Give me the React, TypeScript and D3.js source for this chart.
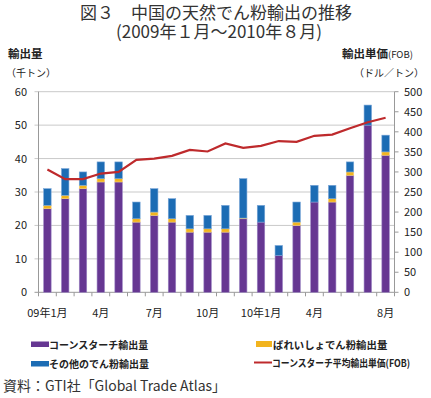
import React from "react";
import * as d3 from "d3";

const months = ["09-01","09-02","09-03","09-04","09-05","09-06","09-07","09-08","09-09","09-10","09-11","09-12","10-01","10-02","10-03","10-04","10-05","10-06","10-07","10-08"];
const cornStarch = [25, 28, 31, 33, 33, 21, 23, 21, 18, 18, 18, 22, 21, 11, 20, 27, 27, 35, 50, 41];
const potatoStarch = [1, 1, 1, 1, 1, 1, 1, 1, 1, 1, 1, 0.2, 0, 0, 1, 0, 1, 1, 0, 1];
const otherStarch = [5, 8, 4, 5, 5, 5, 7, 6, 4, 4, 7, 11.8, 5, 3, 6, 5, 4, 3, 6, 5];
const cornPrice = [306, 282, 282, 296, 300, 330, 333, 340, 355, 351, 371, 360, 365, 377, 375, 390, 393, 409, 424, 435];

const xTickLabels: [number, string][] = [[0, "09年1月"], [3, "4月"], [6, "7月"], [9, "10月"], [12, "10年1月"], [15, "4月"], [19, "8月"]];
const leftTicks = [0, 10, 20, 30, 40, 50, 60];
const rightTicks = [0, 50, 100, 150, 200, 250, 300, 350, 400, 450, 500];

const seriesNames = ["コーンスターチ輸出量", "ばれいしょでん粉輸出量", "その他のでん粉輸出量", "コーンスターチ平均輸出単価(FOB)"];
const colors = { corn: "#663792", potato: "#F2B41E", other: "#1C6CB4", line: "#BE2A2C" };

const W = 431, H = 398;
const L = 38.5, R = 394.5, T = 91.7, B = 292.3;
const FONT = "'Noto Sans CJK JP', 'Noto Sans', sans-serif";

export default function App() {
  const x = d3.scaleBand<string>().domain(months).range([L, R]).paddingInner(0.58).paddingOuter(0.29);
  const yL = d3.scaleLinear().domain([0, 60]).range([B, T]);
  const yR = d3.scaleLinear().domain([0, 500]).range([B, T]);
  const step = (R - L) / months.length;

  const stackData = months.map((m, i) => ({ m, corn: cornStarch[i], potato: potatoStarch[i], other: otherStarch[i] }));
  const stack = d3.stack<any>().keys(["corn", "potato", "other"])(stackData);
  const fills: Record<string, string> = { corn: colors.corn, potato: colors.potato, other: colors.other };
  const strokes: Record<string, string> = { corn: "#9c86c4", potato: "#f7d27a", other: "#7aa6d8" };

  const line = d3.line<number>()
    .x((_, i) => (x(months[i]) as number) + x.bandwidth() / 2)
    .y((d) => yR(d));

  return (
    <svg width={W} height={H} style={{ position: "absolute", left: 0, top: 0, fontFamily: FONT }}>
      <rect x={0} y={0} width={W} height={H} fill="#fff" />
      <text x={216} y={19} textAnchor="middle" fontSize={17} fill="#333">図３　中国の天然でん粉輸出の推移</text>
      <text x={219} y={38} textAnchor="middle" fontSize={17} fill="#333">(2009年１月～2010年８月)</text>

      <text x={8} y={58} fontSize={11.5} fontWeight="bold" fill="#222">輸出量</text>
      <text x={6} y={77} fontSize={10} fill="#222">（千トン）</text>
      <text x={342} y={58} fontSize={11.5} fontWeight="bold" fill="#222">輸出単価<tspan fontSize={9.5} fontWeight="normal">(FOB)</tspan></text>
      <text x={354} y={77} fontSize={10} fill="#222">（ドル／トン）</text>

      {leftTicks.map((t) => (
        <g key={"g" + t}>
          <line x1={L - 4} x2={R} y1={yL(t)} y2={yL(t)} stroke={t === 0 ? "#999" : "#c9c9c9"} strokeWidth={1} />
          <text x={27} y={yL(t) + 4} textAnchor="end" fontSize={11} fill="#222">{t}</text>
        </g>
      ))}
      {rightTicks.map((t) => (
        <g key={"r" + t}>
          <line x1={R} x2={R + 4} y1={yR(t)} y2={yR(t)} stroke="#999" />
          <text x={404} y={yR(t) + 4} fontSize={11} fill="#222">{t}</text>
        </g>
      ))}
      <line x1={L} x2={L} y1={T} y2={B} stroke="#999" />
      <line x1={R} x2={R} y1={T} y2={B} stroke="#999" />
      {d3.range(months.length + 1).map((i) => (
        <line key={"xt" + i} x1={L + i * step} x2={L + i * step} y1={B} y2={B + 4} stroke="#999" />
      ))}

      {stack.map((layer) => (
        <g key={layer.key}>
          {layer.map((d, i) => (
            d[1] - d[0] > 0 ? (
              <rect key={i} x={x(months[i]) as number} width={x.bandwidth()} y={yL(d[1])} height={yL(d[0]) - yL(d[1])}
                fill={fills[layer.key]} stroke={strokes[layer.key]} strokeWidth={0.6} />
            ) : null
          ))}
        </g>
      ))}

      <path d={line(cornPrice) || ""} fill="none" stroke={colors.line} strokeWidth={2.2} />

      {xTickLabels.map(([i, s]) => (
        <text key={"xl" + i} x={(x(months[i]) as number) + x.bandwidth() / 2} y={317} textAnchor="middle" fontSize={11} fill="#222">{s}</text>
      ))}

      <rect x={31} y={341.5} width={18} height={5.5} fill={colors.corn} />
      <text x={49} y={348.5} fontSize={10} fontWeight="bold" fill="#222">{seriesNames[0]}</text>
      <rect x={31} y={361} width={18} height={5.5} fill={colors.other} />
      <text x={49} y={368} fontSize={10} fontWeight="bold" fill="#222">{seriesNames[2]}</text>
      <rect x={256} y={341} width={16} height={6} fill={colors.potato} />
      <text x={273} y={348.5} fontSize={10.4} fontWeight="bold" fill="#222">{seriesNames[1]}</text>
      <line x1={254} x2={272} y1={362.5} y2={362.5} stroke={colors.line} strokeWidth={2} />
      <text x={272} y={366.5} fontSize={10} fontWeight="bold" fill="#222" textLength={138} lengthAdjust="spacingAndGlyphs">{seriesNames[3]}</text>

      <text x={3} y={391} fontSize={14} fill="#333" textLength={223} lengthAdjust="spacingAndGlyphs">資料：GTI社「Global Trade Atlas」</text>
    </svg>
  );
}
